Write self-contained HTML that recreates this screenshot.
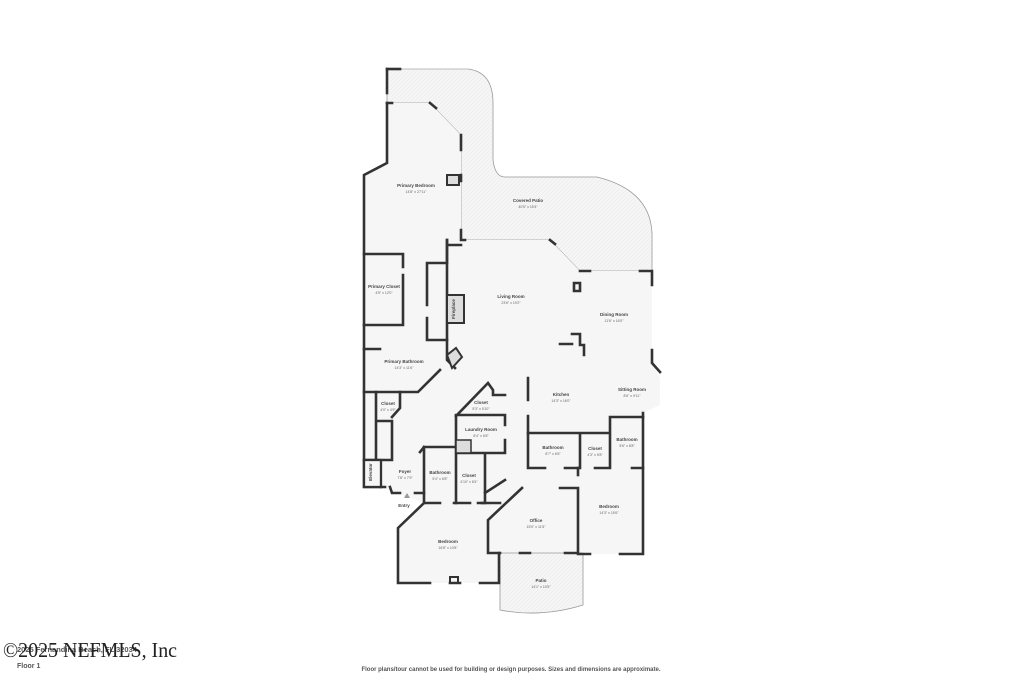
<!DOCTYPE html>
<html><head><meta charset="utf-8"><style>
html,body{margin:0;padding:0;background:#fff;width:1023px;height:682px;overflow:hidden;font-family:"Liberation Sans",sans-serif}
svg{position:absolute;left:0;top:0}
</style></head><body>
<svg width="1023" height="682" viewBox="0 0 1023 682" xmlns="http://www.w3.org/2000/svg">
<defs>
<pattern id="h" width="4" height="4" patternUnits="userSpaceOnUse"><rect width="4" height="4" fill="#f5f5f5"/><path d="M0 4L4 0" stroke="#e8e8e8" stroke-width="0.5"/></pattern>
</defs>
<path d="M387 69 L468 69 Q493 72 493 103 L493 160 Q495 177 505 177 L597 177 Q650 190 652 233 L652 271 L580 271 L550 240 L461 240 L461 135 L430 103 L387 103 Z" fill="url(#h)" stroke="#999" stroke-width="0.8"/>
<path d="M387 103 L430 103 L461 135 L461 240 L550 240 L580 271 L652 271 L652 363 L660 378 L660 405 L643 413 L643 554 L578 554 L578 553 L488 553 L499 553 L499 583 L398 583 L398 528 L424 503 L381 487 L364 487 L364 175 L387 163 Z" fill="#f6f6f6"/>
<path d="M500 553 L583 553 L583 605 Q541 618 500 610 Z" fill="url(#h)" stroke="#999" stroke-width="0.8"/>
<g fill="none" stroke="#333" stroke-width="2.6" stroke-linecap="square">
<path d="M387 69 L400 69"/>
<path d="M387 69 L387 93"/>
<path d="M387 103 L387 163 L364 175 L364 487 L381 487"/>
<path d="M387 103 L392 103 M430 103 L436 108"/>
<path d="M461 135 L461 150 M461 175 L461 181 M461 230 L461 240 L465 240"/>
<path d="M447 240 L447 260 M447 245 L461 245"/>
<path d="M550 240 L555 244 M580 271 L590 271 M640 271 L652 271 L652 285 M652 350 L652 363 L660 372"/>
<path d="M643 413 L643 554 L620 554 M590 554 L578 554 L578 488 L560 488 M522 488 L488 520 L488 553 L500 553 M520 553 L530 553 M565 553 L578 553"/>
<path d="M499 553 L499 583 L480 583 M460 583 L450 583 M430 583 L398 583 L398 528 L424 503 L440 503 M454 503 L470 503 M482 503 L500 503"/>
<path d="M364 254 L403 254 L403 267 M403 275 L403 325 L364 325"/>
<path d="M364 349 L380 349"/>
<path d="M364 392 L418 392 L440 370"/>
<path d="M447 240 L447 360 L455 368"/>
<path d="M427 263 L447 263 M427 263 L427 305 M427 318 L427 340 L447 340"/>
<path d="M376 392 L376 460 M376 421 L392 421 M400 392 L400 408 L392 417 M392 421 L392 460 L364 460"/>
<path d="M381 487 L385 487 M390 487 L392 493 L400 493 M415 493 L424 493"/>
<path d="M424 447 L424 503 M424 447 L456 447 M420 452 L424 447"/>
<path d="M456 416 L488 383 L493 390 L493 395 M493 395 L505 395"/>
<path d="M456 416 L456 503 M456 415 L505 415 L505 425 M505 440 L505 453 L456 453"/>
<path d="M485 455 L485 503 M478 503 L485 503 M485 493 L505 480"/>
<path d="M528 378 L528 400 M528 416 L528 468 L545 468 M565 468 L578 468"/>
<path d="M528 433 L610 433 L610 417 L643 417 M580 433 L580 468 M610 433 L610 468 L595 468 M632 468 L643 468"/>
<path d="M578 468 L578 475"/>
<path d="M572 334 L580 334 L580 345 L584 345 L584 355 M560 344 L572 344"/>
<path d="M574 283 L580 283 L580 291 L574 291 Z"/>
</g>
<rect x="447" y="295" width="17" height="28" fill="#ddd" stroke="#333" stroke-width="2"/>
<rect x="447" y="175" width="12" height="10" fill="#ddd" stroke="#333" stroke-width="2"/>
<rect x="364" y="460" width="17" height="27" fill="#f6f6f6" stroke="#333" stroke-width="2.3"/>
<rect x="456" y="440" width="15" height="13" fill="#ddd" stroke="#333" stroke-width="1.5"/>
<rect x="450" y="577" width="8" height="6" fill="none" stroke="#333" stroke-width="2"/>
<path d="M447 355 L456 348 L462 357 L452 368 Z" fill="#ddd" stroke="#333" stroke-width="2"/>
<path d="M403 69 L468 69" stroke="#bbb" stroke-width="1"/>
<polygon points="404,498 407,493 410,498" fill="#999"/>
<g font-family="Liberation Sans, sans-serif" fill="#444" text-anchor="middle">
<g font-size="4.5" font-weight="bold">
<text x="416" y="187">Primary Bedroom</text>
<text x="528" y="202">Covered Patio</text>
<text x="511" y="298">Living Room</text>
<text x="614" y="316">Dining Room</text>
<text x="384" y="288">Primary Closet</text>
<text x="404" y="363">Primary Bathroom</text>
<text x="561" y="396">Kitchen</text>
<text x="632" y="391">Sitting Room</text>
<text x="388" y="405">Closet</text>
<text x="481" y="404">Closet</text>
<text x="481" y="431">Laundry Room</text>
<text x="553" y="449">Bathroom</text>
<text x="595" y="450">Closet</text>
<text x="627" y="441">Bathroom</text>
<text x="405" y="473">Foyer</text>
<text x="440" y="474">Bathroom</text>
<text x="469" y="477">Closet</text>
<text x="404" y="507">Entry</text>
<text x="448" y="543">Bedroom</text>
<text x="536" y="522">Office</text>
<text x="609" y="508">Bedroom</text>
<text x="541" y="582">Patio</text>
<text x="372" y="472" transform="rotate(-90 372 472)">Elevator</text>
<text x="455" y="309" transform="rotate(-90 455 309)">Fireplace</text>
</g>
<g font-size="3.5" fill="#666">
<text x="416" y="193">14'8" x 27'11"</text>
<text x="528" y="208">40'5" x 15'4"</text>
<text x="511" y="304">23'6" x 19'2"</text>
<text x="614" y="322">11'6" x 16'0"</text>
<text x="384" y="294">4'5" x 12'0"</text>
<text x="404" y="369">14'3" x 11'6"</text>
<text x="561" y="402">14'3" x 16'0"</text>
<text x="632" y="397">8'6" x 9'11"</text>
<text x="388" y="411">4'0" x 4'9"</text>
<text x="481" y="410">5'3" x 5'10"</text>
<text x="481" y="437">8'4" x 6'8"</text>
<text x="553" y="455">8'7" x 6'6"</text>
<text x="595" y="456">4'3" x 5'8"</text>
<text x="627" y="447">5'6" x 8'8"</text>
<text x="405" y="479">7'8" x 7'9"</text>
<text x="440" y="480">5'4" x 6'8"</text>
<text x="469" y="483">4'10" x 8'4"</text>
<text x="448" y="549">16'8" x 10'8"</text>
<text x="536" y="528">15'0" x 11'5"</text>
<text x="609" y="514">14'3" x 15'6"</text>
<text x="541" y="588">14'1" x 10'5"</text>
</g>
</g>
<text x="17" y="652" font-family="Liberation Sans, sans-serif" font-size="7.5" font-weight="bold" fill="#555">2025 Fernandina Beach, FL 32034</text>
<text x="3" y="657" font-family="Liberation Serif, serif" font-size="21" fill="#222" textLength="174" lengthAdjust="spacingAndGlyphs">©2025 NEFMLS, Inc</text>
<text x="17" y="668" font-family="Liberation Sans, sans-serif" font-size="7" font-weight="bold" fill="#555">Floor 1</text>
<text x="511" y="671" text-anchor="middle" font-family="Liberation Sans, sans-serif" font-size="6" font-weight="bold" fill="#555">Floor plans/tour cannot be used for building or design purposes. Sizes and dimensions are approximate.</text>
</svg>
</body></html>
